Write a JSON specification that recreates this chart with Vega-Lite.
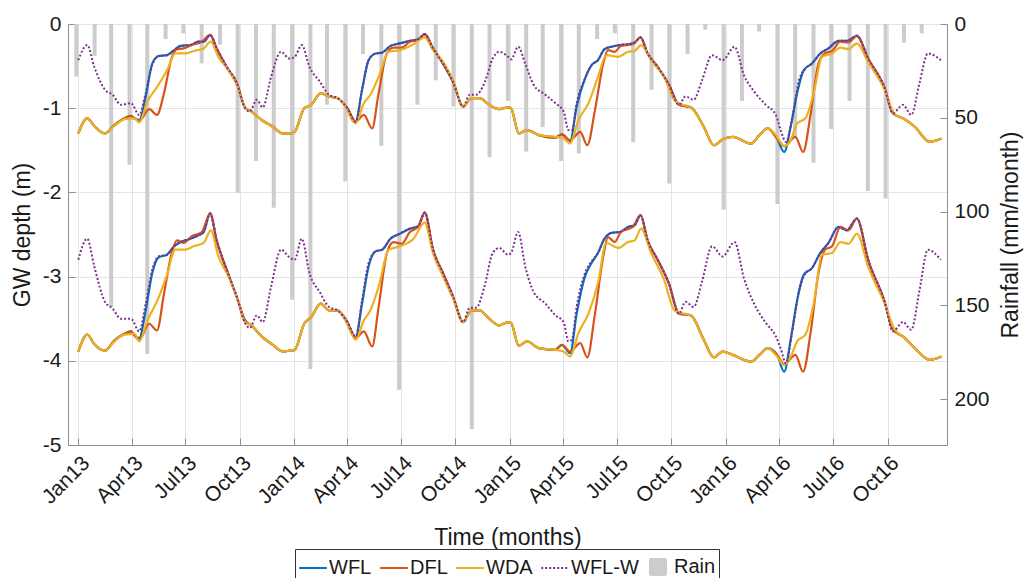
{
  "$schema": "https://vega.github.io/schema/vega-lite/v6.json",
  "width": 879,
  "height": 421,
  "autosize": {"type": "none"},
  "padding": {"left": 68, "top": 24, "right": 77, "bottom": 133},
  "background": "white",
  "config": {
    "font": "Liberation Sans",
    "view": {"stroke": "#8f8f8f", "strokeWidth": 1},
    "axis": {
      "labelFontSize": 21,
      "labelColor": "#1a1a1a",
      "titleFontSize": 23,
      "titleFontWeight": "normal",
      "titleColor": "#1a1a1a",
      "domainColor": "#8f8f8f",
      "tickColor": "#8f8f8f",
      "gridColor": "#e4e4e4",
      "gridWidth": 1
    }
  },
  "datasets": {
    "rain": [
      {"t": "2013-01-01", "r": 28}, {"t": "2013-02-01", "r": 17}, {"t": "2013-03-01", "r": 151}, {"t": "2013-04-01", "r": 75},
      {"t": "2013-05-01", "r": 176}, {"t": "2013-06-01", "r": 8}, {"t": "2013-07-01", "r": 5}, {"t": "2013-08-01", "r": 21},
      {"t": "2013-09-01", "r": 11}, {"t": "2013-10-01", "r": 90}, {"t": "2013-11-01", "r": 73}, {"t": "2013-12-01", "r": 98},
      {"t": "2014-01-01", "r": 147}, {"t": "2014-02-01", "r": 184}, {"t": "2014-03-01", "r": 43}, {"t": "2014-04-01", "r": 84},
      {"t": "2014-05-01", "r": 16}, {"t": "2014-06-01", "r": 65}, {"t": "2014-07-01", "r": 195}, {"t": "2014-08-01", "r": 43},
      {"t": "2014-09-01", "r": 30}, {"t": "2014-10-01", "r": 44}, {"t": "2014-11-01", "r": 216}, {"t": "2014-12-01", "r": 71},
      {"t": "2015-01-01", "r": 41}, {"t": "2015-02-01", "r": 68}, {"t": "2015-03-01", "r": 55}, {"t": "2015-04-01", "r": 73},
      {"t": "2015-05-01", "r": 69}, {"t": "2015-06-01", "r": 8}, {"t": "2015-07-01", "r": 5}, {"t": "2015-08-01", "r": 63},
      {"t": "2015-09-01", "r": 35}, {"t": "2015-10-01", "r": 85}, {"t": "2015-11-01", "r": 16}, {"t": "2015-12-01", "r": 3},
      {"t": "2016-01-01", "r": 99}, {"t": "2016-02-01", "r": 41}, {"t": "2016-03-01", "r": 4}, {"t": "2016-04-01", "r": 96},
      {"t": "2016-05-01", "r": 60}, {"t": "2016-06-01", "r": 74}, {"t": "2016-07-01", "r": 56}, {"t": "2016-08-01", "r": 41},
      {"t": "2016-09-01", "r": 89}, {"t": "2016-10-01", "r": 93}, {"t": "2016-11-01", "r": 10}, {"t": "2016-12-01", "r": 5}
    ],
    "gw": [
      {"s":"WDA","t":"2013-01-01","u":-1.30,"l":-3.89},{"s":"WDA","t":"2013-01-16","u":-1.12,"l":-3.69},{"s":"WDA","t":"2013-01-29","u":-1.22,"l":-3.81},
      {"s":"WDA","t":"2013-02-15","u":-1.30,"l":-3.88},{"s":"WDA","t":"2013-03-03","u":-1.21,"l":-3.77},{"s":"WDA","t":"2013-03-20","u":-1.13,"l":-3.69},
      {"s":"WDA","t":"2013-04-06","u":-1.12,"l":-3.68},{"s":"WDA","t":"2013-04-14","u":-1.17,"l":-3.77},{"s":"WDA","t":"2013-04-28","u":-0.92,"l":-3.52},
      {"s":"WDA","t":"2013-05-15","u":-0.74,"l":-3.28},{"s":"WDA","t":"2013-05-31","u":-0.55,"l":-2.98},{"s":"WDA","t":"2013-06-14","u":-0.35,"l":-2.68},
      {"s":"WDA","t":"2013-07-01","u":-0.35,"l":-2.68},{"s":"WDA","t":"2013-07-15","u":-0.32,"l":-2.64},{"s":"WDA","t":"2013-08-01","u":-0.29,"l":-2.60},
      {"s":"WDA","t":"2013-08-13","u":-0.21,"l":-2.45},{"s":"WDA","t":"2013-08-26","u":-0.39,"l":-2.76},{"s":"WDA","t":"2013-09-12","u":-0.55,"l":-3.00},
      {"s":"WDA","t":"2013-09-26","u":-0.72,"l":-3.24},{"s":"WDA","t":"2013-10-10","u":-0.98,"l":-3.54},{"s":"WDA","t":"2013-10-21","u":-1.04,"l":-3.58},
      {"s":"WDA","t":"2013-11-07","u":-1.14,"l":-3.71},{"s":"WDA","t":"2013-11-26","u":-1.22,"l":-3.81},{"s":"WDA","t":"2013-12-13","u":-1.30,"l":-3.89},
      {"s":"WDA","t":"2013-12-24","u":-1.30,"l":-3.88},{"s":"WDA","t":"2014-01-02","u":-1.28,"l":-3.87},{"s":"WDA","t":"2014-01-18","u":-1.00,"l":-3.56},
      {"s":"WDA","t":"2014-01-30","u":-0.96,"l":-3.48},{"s":"WDA","t":"2014-02-15","u":-0.82,"l":-3.32},{"s":"WDA","t":"2014-03-01","u":-0.86,"l":-3.40},
      {"s":"WDA","t":"2014-03-15","u":-0.88,"l":-3.40},{"s":"WDA","t":"2014-03-29","u":-0.98,"l":-3.52},{"s":"WDA","t":"2014-04-09","u":-1.14,"l":-3.69},
      {"s":"WDA","t":"2014-04-15","u":-1.18,"l":-3.75},{"s":"WDA","t":"2014-04-29","u":-0.94,"l":-3.52},{"s":"WDA","t":"2014-05-10","u":-0.84,"l":-3.40},
      {"s":"WDA","t":"2014-05-24","u":-0.63,"l":-3.12},{"s":"WDA","t":"2014-06-10","u":-0.33,"l":-2.68},{"s":"WDA","t":"2014-06-29","u":-0.31,"l":-2.64},
      {"s":"WDA","t":"2014-07-22","u":-0.24,"l":-2.55},{"s":"WDA","t":"2014-08-10","u":-0.16,"l":-2.36},{"s":"WDA","t":"2014-08-24","u":-0.31,"l":-2.72},
      {"s":"WDA","t":"2014-09-10","u":-0.45,"l":-3.00},{"s":"WDA","t":"2014-09-27","u":-0.67,"l":-3.26},{"s":"WDA","t":"2014-10-14","u":-0.98,"l":-3.54},
      {"s":"WDA","t":"2014-10-28","u":-0.88,"l":-3.40},{"s":"WDA","t":"2014-11-11","u":-0.88,"l":-3.40},{"s":"WDA","t":"2014-11-27","u":-0.96,"l":-3.50},
      {"s":"WDA","t":"2014-12-14","u":-1.01,"l":-3.58},{"s":"WDA","t":"2014-12-29","u":-0.99,"l":-3.54},{"s":"WDA","t":"2015-01-03","u":-1.00,"l":-3.55},
      {"s":"WDA","t":"2015-01-16","u":-1.30,"l":-3.82},{"s":"WDA","t":"2015-01-30","u":-1.26,"l":-3.77},{"s":"WDA","t":"2015-02-19","u":-1.32,"l":-3.85},
      {"s":"WDA","t":"2015-03-19","u":-1.34,"l":-3.87},{"s":"WDA","t":"2015-04-02","u":-1.36,"l":-3.89},{"s":"WDA","t":"2015-04-13","u":-1.42,"l":-3.95},
      {"s":"WDA","t":"2015-04-27","u":-1.14,"l":-3.67},{"s":"WDA","t":"2015-05-14","u":-0.94,"l":-3.44},{"s":"WDA","t":"2015-05-30","u":-0.63,"l":-3.08},
      {"s":"WDA","t":"2015-06-13","u":-0.37,"l":-2.60},{"s":"WDA","t":"2015-07-03","u":-0.39,"l":-2.66},{"s":"WDA","t":"2015-07-20","u":-0.33,"l":-2.59},
      {"s":"WDA","t":"2015-07-31","u":-0.32,"l":-2.57},{"s":"WDA","t":"2015-08-11","u":-0.25,"l":-2.43},{"s":"WDA","t":"2015-08-28","u":-0.43,"l":-2.72},
      {"s":"WDA","t":"2015-09-19","u":-0.63,"l":-3.04},{"s":"WDA","t":"2015-10-06","u":-0.90,"l":-3.40},{"s":"WDA","t":"2015-10-17","u":-0.95,"l":-3.43},
      {"s":"WDA","t":"2015-11-03","u":-0.99,"l":-3.46},{"s":"WDA","t":"2015-11-25","u":-1.22,"l":-3.75},{"s":"WDA","t":"2015-12-12","u":-1.44,"l":-3.96},
      {"s":"WDA","t":"2015-12-27","u":-1.37,"l":-3.89},{"s":"WDA","t":"2016-01-13","u":-1.34,"l":-3.93},{"s":"WDA","t":"2016-02-13","u":-1.42,"l":-4.01},
      {"s":"WDA","t":"2016-02-27","u":-1.32,"l":-3.93},{"s":"WDA","t":"2016-03-12","u":-1.24,"l":-3.85},{"s":"WDA","t":"2016-03-26","u":-1.32,"l":-3.93},
      {"s":"WDA","t":"2016-04-09","u":-1.45,"l":-4.05},{"s":"WDA","t":"2016-04-20","u":-1.38,"l":-3.95},{"s":"WDA","t":"2016-05-01","u":-1.18,"l":-3.77},
      {"s":"WDA","t":"2016-05-15","u":-1.12,"l":-3.69},{"s":"WDA","t":"2016-05-29","u":-0.82,"l":-3.32},{"s":"WDA","t":"2016-06-12","u":-0.39,"l":-2.74},
      {"s":"WDA","t":"2016-06-29","u":-0.35,"l":-2.72},{"s":"WDA","t":"2016-07-13","u":-0.28,"l":-2.59},{"s":"WDA","t":"2016-07-27","u":-0.30,"l":-2.61},
      {"s":"WDA","t":"2016-08-10","u":-0.23,"l":-2.49},{"s":"WDA","t":"2016-08-29","u":-0.45,"l":-2.88},{"s":"WDA","t":"2016-09-26","u":-0.78,"l":-3.32},
      {"s":"WDA","t":"2016-10-13","u":-1.07,"l":-3.63},{"s":"WDA","t":"2016-10-27","u":-1.12,"l":-3.71},{"s":"WDA","t":"2016-11-16","u":-1.22,"l":-3.85},
      {"s":"WDA","t":"2016-12-11","u":-1.40,"l":-3.99},{"s":"WDA","t":"2016-12-31","u":-1.36,"l":-3.95},

      {"s":"WFL","t":"2013-01-01","u":-1.30,"l":-3.89},{"s":"WFL","t":"2013-01-16","u":-1.12,"l":-3.69},{"s":"WFL","t":"2013-01-29","u":-1.22,"l":-3.81},
      {"s":"WFL","t":"2013-02-15","u":-1.30,"l":-3.88},{"s":"WFL","t":"2013-03-03","u":-1.20,"l":-3.76},{"s":"WFL","t":"2013-03-20","u":-1.12,"l":-3.68},
      {"s":"WFL","t":"2013-03-31","u":-1.09,"l":-3.65},{"s":"WFL","t":"2013-04-06","u":-1.12,"l":-3.70},{"s":"WFL","t":"2013-04-14","u":-1.14,"l":-3.73},
      {"s":"WFL","t":"2013-04-25","u":-0.86,"l":-3.40},{"s":"WFL","t":"2013-05-06","u":-0.47,"l":-2.96},{"s":"WFL","t":"2013-05-17","u":-0.38,"l":-2.77},
      {"s":"WFL","t":"2013-05-31","u":-0.37,"l":-2.74},{"s":"WFL","t":"2013-06-12","u":-0.31,"l":-2.64},{"s":"WFL","t":"2013-06-23","u":-0.26,"l":-2.59},
      {"s":"WFL","t":"2013-07-10","u":-0.25,"l":-2.55},{"s":"WFL","t":"2013-07-23","u":-0.21,"l":-2.51},{"s":"WFL","t":"2013-08-01","u":-0.21,"l":-2.47},
      {"s":"WFL","t":"2013-08-12","u":-0.13,"l":-2.25},{"s":"WFL","t":"2013-08-23","u":-0.29,"l":-2.57},{"s":"WFL","t":"2013-09-09","u":-0.51,"l":-2.92},
      {"s":"WFL","t":"2013-09-26","u":-0.70,"l":-3.24},{"s":"WFL","t":"2013-10-10","u":-0.99,"l":-3.52},{"s":"WFL","t":"2013-10-21","u":-1.04,"l":-3.58},
      {"s":"WFL","t":"2013-11-07","u":-1.14,"l":-3.71},{"s":"WFL","t":"2013-11-26","u":-1.22,"l":-3.81},{"s":"WFL","t":"2013-12-13","u":-1.30,"l":-3.89},
      {"s":"WFL","t":"2013-12-24","u":-1.30,"l":-3.88},{"s":"WFL","t":"2014-01-02","u":-1.28,"l":-3.87},{"s":"WFL","t":"2014-01-18","u":-1.00,"l":-3.56},
      {"s":"WFL","t":"2014-01-30","u":-0.96,"l":-3.48},{"s":"WFL","t":"2014-02-15","u":-0.82,"l":-3.32},{"s":"WFL","t":"2014-03-01","u":-0.86,"l":-3.40},
      {"s":"WFL","t":"2014-03-15","u":-0.88,"l":-3.40},{"s":"WFL","t":"2014-04-01","u":-1.00,"l":-3.54},{"s":"WFL","t":"2014-04-15","u":-1.16,"l":-3.73},
      {"s":"WFL","t":"2014-04-26","u":-0.78,"l":-3.32},{"s":"WFL","t":"2014-05-07","u":-0.43,"l":-2.88},{"s":"WFL","t":"2014-05-19","u":-0.35,"l":-2.70},
      {"s":"WFL","t":"2014-05-30","u":-0.34,"l":-2.68},{"s":"WFL","t":"2014-06-13","u":-0.26,"l":-2.55},{"s":"WFL","t":"2014-06-29","u":-0.23,"l":-2.49},
      {"s":"WFL","t":"2014-07-16","u":-0.20,"l":-2.43},{"s":"WFL","t":"2014-07-30","u":-0.18,"l":-2.40},{"s":"WFL","t":"2014-08-10","u":-0.12,"l":-2.24},
      {"s":"WFL","t":"2014-08-24","u":-0.29,"l":-2.68},{"s":"WFL","t":"2014-09-10","u":-0.47,"l":-2.96},{"s":"WFL","t":"2014-09-27","u":-0.69,"l":-3.24},
      {"s":"WFL","t":"2014-10-14","u":-0.98,"l":-3.54},{"s":"WFL","t":"2014-10-28","u":-0.88,"l":-3.40},{"s":"WFL","t":"2014-11-11","u":-0.88,"l":-3.40},
      {"s":"WFL","t":"2014-11-27","u":-0.96,"l":-3.50},{"s":"WFL","t":"2014-12-14","u":-1.01,"l":-3.58},{"s":"WFL","t":"2014-12-29","u":-0.99,"l":-3.54},
      {"s":"WFL","t":"2015-01-03","u":-1.00,"l":-3.55},{"s":"WFL","t":"2015-01-16","u":-1.30,"l":-3.82},{"s":"WFL","t":"2015-01-30","u":-1.26,"l":-3.77},
      {"s":"WFL","t":"2015-02-19","u":-1.32,"l":-3.85},{"s":"WFL","t":"2015-03-19","u":-1.35,"l":-3.87},{"s":"WFL","t":"2015-03-30","u":-1.31,"l":-3.81},
      {"s":"WFL","t":"2015-04-13","u":-1.39,"l":-3.91},{"s":"WFL","t":"2015-04-24","u":-0.98,"l":-3.44},{"s":"WFL","t":"2015-05-08","u":-0.65,"l":-3.00},
      {"s":"WFL","t":"2015-05-19","u":-0.49,"l":-2.84},{"s":"WFL","t":"2015-05-30","u":-0.43,"l":-2.72},{"s":"WFL","t":"2015-06-10","u":-0.30,"l":-2.55},
      {"s":"WFL","t":"2015-06-22","u":-0.27,"l":-2.48},{"s":"WFL","t":"2015-07-06","u":-0.25,"l":-2.47},{"s":"WFL","t":"2015-07-20","u":-0.24,"l":-2.41},
      {"s":"WFL","t":"2015-07-31","u":-0.22,"l":-2.39},{"s":"WFL","t":"2015-08-10","u":-0.16,"l":-2.27},{"s":"WFL","t":"2015-08-22","u":-0.35,"l":-2.57},
      {"s":"WFL","t":"2015-09-08","u":-0.51,"l":-2.80},{"s":"WFL","t":"2015-09-27","u":-0.72,"l":-3.08},{"s":"WFL","t":"2015-10-14","u":-0.96,"l":-3.44},
      {"s":"WFL","t":"2015-11-03","u":-0.99,"l":-3.46},{"s":"WFL","t":"2015-11-25","u":-1.22,"l":-3.75},{"s":"WFL","t":"2015-12-12","u":-1.44,"l":-3.96},
      {"s":"WFL","t":"2015-12-27","u":-1.37,"l":-3.89},{"s":"WFL","t":"2016-01-13","u":-1.34,"l":-3.93},{"s":"WFL","t":"2016-02-13","u":-1.42,"l":-4.01},
      {"s":"WFL","t":"2016-02-27","u":-1.32,"l":-3.93},{"s":"WFL","t":"2016-03-12","u":-1.24,"l":-3.85},{"s":"WFL","t":"2016-03-28","u":-1.36,"l":-3.93},
      {"s":"WFL","t":"2016-04-09","u":-1.52,"l":-4.13},{"s":"WFL","t":"2016-04-20","u":-1.22,"l":-3.75},{"s":"WFL","t":"2016-05-01","u":-0.82,"l":-3.28},
      {"s":"WFL","t":"2016-05-12","u":-0.55,"l":-2.98},{"s":"WFL","t":"2016-05-26","u":-0.47,"l":-2.90},{"s":"WFL","t":"2016-06-09","u":-0.35,"l":-2.72},
      {"s":"WFL","t":"2016-06-23","u":-0.29,"l":-2.60},{"s":"WFL","t":"2016-07-10","u":-0.20,"l":-2.41},{"s":"WFL","t":"2016-07-24","u":-0.20,"l":-2.45},
      {"s":"WFL","t":"2016-08-10","u":-0.14,"l":-2.31},{"s":"WFL","t":"2016-08-29","u":-0.41,"l":-2.80},{"s":"WFL","t":"2016-09-26","u":-0.76,"l":-3.30},
      {"s":"WFL","t":"2016-10-10","u":-1.06,"l":-3.63},{"s":"WFL","t":"2016-10-27","u":-1.12,"l":-3.71},{"s":"WFL","t":"2016-11-16","u":-1.22,"l":-3.85},
      {"s":"WFL","t":"2016-12-11","u":-1.40,"l":-3.99},{"s":"WFL","t":"2016-12-31","u":-1.36,"l":-3.95},

      {"s":"DFL","t":"2013-01-01","u":-1.30,"l":-3.89},{"s":"DFL","t":"2013-01-16","u":-1.12,"l":-3.69},{"s":"DFL","t":"2013-01-29","u":-1.22,"l":-3.81},
      {"s":"DFL","t":"2013-02-15","u":-1.30,"l":-3.88},{"s":"DFL","t":"2013-03-03","u":-1.20,"l":-3.76},{"s":"DFL","t":"2013-03-20","u":-1.12,"l":-3.68},
      {"s":"DFL","t":"2013-03-31","u":-1.09,"l":-3.65},{"s":"DFL","t":"2013-04-06","u":-1.12,"l":-3.70},{"s":"DFL","t":"2013-04-14","u":-1.15,"l":-3.75},
      {"s":"DFL","t":"2013-05-01","u":-1.01,"l":-3.56},{"s":"DFL","t":"2013-05-14","u":-1.08,"l":-3.64},{"s":"DFL","t":"2013-05-26","u":-0.82,"l":-3.20},
      {"s":"DFL","t":"2013-06-08","u":-0.40,"l":-2.72},{"s":"DFL","t":"2013-06-17","u":-0.30,"l":-2.57},{"s":"DFL","t":"2013-06-28","u":-0.29,"l":-2.60},
      {"s":"DFL","t":"2013-07-12","u":-0.25,"l":-2.52},{"s":"DFL","t":"2013-07-29","u":-0.21,"l":-2.47},{"s":"DFL","t":"2013-08-12","u":-0.13,"l":-2.25},
      {"s":"DFL","t":"2013-08-23","u":-0.29,"l":-2.57},{"s":"DFL","t":"2013-09-09","u":-0.51,"l":-2.92},{"s":"DFL","t":"2013-09-26","u":-0.70,"l":-3.24},
      {"s":"DFL","t":"2013-10-10","u":-0.99,"l":-3.52},{"s":"DFL","t":"2013-10-21","u":-1.04,"l":-3.58},{"s":"DFL","t":"2013-11-07","u":-1.14,"l":-3.71},
      {"s":"DFL","t":"2013-11-26","u":-1.22,"l":-3.81},{"s":"DFL","t":"2013-12-13","u":-1.30,"l":-3.89},{"s":"DFL","t":"2013-12-24","u":-1.30,"l":-3.88},
      {"s":"DFL","t":"2014-01-02","u":-1.28,"l":-3.87},{"s":"DFL","t":"2014-01-18","u":-1.00,"l":-3.56},{"s":"DFL","t":"2014-01-30","u":-0.96,"l":-3.48},
      {"s":"DFL","t":"2014-02-15","u":-0.82,"l":-3.32},{"s":"DFL","t":"2014-03-01","u":-0.86,"l":-3.40},{"s":"DFL","t":"2014-03-15","u":-0.88,"l":-3.40},
      {"s":"DFL","t":"2014-04-01","u":-1.00,"l":-3.54},{"s":"DFL","t":"2014-04-15","u":-1.16,"l":-3.73},{"s":"DFL","t":"2014-04-29","u":-1.08,"l":-3.65},
      {"s":"DFL","t":"2014-05-13","u":-1.24,"l":-3.83},{"s":"DFL","t":"2014-05-24","u":-0.82,"l":-3.36},{"s":"DFL","t":"2014-06-07","u":-0.35,"l":-2.72},
      {"s":"DFL","t":"2014-06-18","u":-0.28,"l":-2.59},{"s":"DFL","t":"2014-07-02","u":-0.28,"l":-2.61},{"s":"DFL","t":"2014-07-16","u":-0.21,"l":-2.47},
      {"s":"DFL","t":"2014-07-30","u":-0.19,"l":-2.41},{"s":"DFL","t":"2014-08-10","u":-0.12,"l":-2.24},{"s":"DFL","t":"2014-08-24","u":-0.29,"l":-2.68},
      {"s":"DFL","t":"2014-09-10","u":-0.47,"l":-2.96},{"s":"DFL","t":"2014-09-27","u":-0.69,"l":-3.24},{"s":"DFL","t":"2014-10-14","u":-0.98,"l":-3.54},
      {"s":"DFL","t":"2014-10-28","u":-0.88,"l":-3.40},{"s":"DFL","t":"2014-11-11","u":-0.88,"l":-3.40},{"s":"DFL","t":"2014-11-27","u":-0.96,"l":-3.50},
      {"s":"DFL","t":"2014-12-14","u":-1.01,"l":-3.58},{"s":"DFL","t":"2014-12-29","u":-0.99,"l":-3.54},{"s":"DFL","t":"2015-01-03","u":-1.00,"l":-3.55},
      {"s":"DFL","t":"2015-01-16","u":-1.30,"l":-3.82},{"s":"DFL","t":"2015-01-30","u":-1.26,"l":-3.77},{"s":"DFL","t":"2015-02-19","u":-1.32,"l":-3.85},
      {"s":"DFL","t":"2015-03-19","u":-1.35,"l":-3.87},{"s":"DFL","t":"2015-03-30","u":-1.31,"l":-3.81},{"s":"DFL","t":"2015-04-13","u":-1.38,"l":-3.89},
      {"s":"DFL","t":"2015-04-30","u":-1.28,"l":-3.79},{"s":"DFL","t":"2015-05-12","u":-1.44,"l":-3.96},{"s":"DFL","t":"2015-05-25","u":-1.02,"l":-3.44},
      {"s":"DFL","t":"2015-06-08","u":-0.47,"l":-2.76},{"s":"DFL","t":"2015-06-16","u":-0.31,"l":-2.53},{"s":"DFL","t":"2015-06-27","u":-0.33,"l":-2.59},
      {"s":"DFL","t":"2015-07-08","u":-0.26,"l":-2.47},{"s":"DFL","t":"2015-07-28","u":-0.24,"l":-2.41},{"s":"DFL","t":"2015-08-10","u":-0.16,"l":-2.27},
      {"s":"DFL","t":"2015-08-22","u":-0.35,"l":-2.57},{"s":"DFL","t":"2015-09-08","u":-0.51,"l":-2.80},{"s":"DFL","t":"2015-09-27","u":-0.72,"l":-3.08},
      {"s":"DFL","t":"2015-10-14","u":-0.96,"l":-3.44},{"s":"DFL","t":"2015-11-03","u":-0.99,"l":-3.46},{"s":"DFL","t":"2015-11-25","u":-1.22,"l":-3.75},
      {"s":"DFL","t":"2015-12-12","u":-1.44,"l":-3.96},{"s":"DFL","t":"2015-12-27","u":-1.37,"l":-3.89},{"s":"DFL","t":"2016-01-13","u":-1.34,"l":-3.93},
      {"s":"DFL","t":"2016-02-13","u":-1.42,"l":-4.01},{"s":"DFL","t":"2016-02-27","u":-1.32,"l":-3.93},{"s":"DFL","t":"2016-03-12","u":-1.24,"l":-3.85},
      {"s":"DFL","t":"2016-03-28","u":-1.36,"l":-3.93},{"s":"DFL","t":"2016-04-09","u":-1.45,"l":-4.04},{"s":"DFL","t":"2016-04-28","u":-1.34,"l":-3.93},
      {"s":"DFL","t":"2016-05-11","u":-1.52,"l":-4.13},{"s":"DFL","t":"2016-05-24","u":-1.06,"l":-3.65},{"s":"DFL","t":"2016-06-06","u":-0.47,"l":-2.96},
      {"s":"DFL","t":"2016-06-17","u":-0.35,"l":-2.68},{"s":"DFL","t":"2016-06-29","u":-0.32,"l":-2.64},{"s":"DFL","t":"2016-07-13","u":-0.21,"l":-2.41},
      {"s":"DFL","t":"2016-07-27","u":-0.22,"l":-2.45},{"s":"DFL","t":"2016-08-10","u":-0.14,"l":-2.31},{"s":"DFL","t":"2016-08-29","u":-0.41,"l":-2.80},
      {"s":"DFL","t":"2016-09-26","u":-0.76,"l":-3.30},{"s":"DFL","t":"2016-10-10","u":-1.06,"l":-3.63},{"s":"DFL","t":"2016-10-27","u":-1.12,"l":-3.71},
      {"s":"DFL","t":"2016-11-16","u":-1.22,"l":-3.85},{"s":"DFL","t":"2016-12-11","u":-1.40,"l":-3.99},{"s":"DFL","t":"2016-12-31","u":-1.36,"l":-3.95},

      {"s":"WFL-W","t":"2013-01-01","u":-0.43,"l":-2.80},{"s":"WFL-W","t":"2013-01-16","u":-0.25,"l":-2.55},{"s":"WFL-W","t":"2013-01-28","u":-0.51,"l":-2.88},
      {"s":"WFL-W","t":"2013-02-15","u":-0.78,"l":-3.30},{"s":"WFL-W","t":"2013-02-28","u":-0.84,"l":-3.38},{"s":"WFL-W","t":"2013-03-14","u":-0.96,"l":-3.50},
      {"s":"WFL-W","t":"2013-03-31","u":-0.94,"l":-3.50},{"s":"WFL-W","t":"2013-04-14","u":-1.08,"l":-3.65},{"s":"WFL-W","t":"2013-04-25","u":-0.82,"l":-3.32},
      {"s":"WFL-W","t":"2013-05-06","u":-0.49,"l":-2.92},{"s":"WFL-W","t":"2013-05-17","u":-0.38,"l":-2.76},{"s":"WFL-W","t":"2013-05-31","u":-0.37,"l":-2.74},
      {"s":"WFL-W","t":"2013-06-12","u":-0.31,"l":-2.64},{"s":"WFL-W","t":"2013-06-23","u":-0.26,"l":-2.59},{"s":"WFL-W","t":"2013-07-10","u":-0.25,"l":-2.55},
      {"s":"WFL-W","t":"2013-07-23","u":-0.21,"l":-2.51},{"s":"WFL-W","t":"2013-08-01","u":-0.21,"l":-2.47},{"s":"WFL-W","t":"2013-08-12","u":-0.13,"l":-2.25},
      {"s":"WFL-W","t":"2013-08-23","u":-0.29,"l":-2.57},{"s":"WFL-W","t":"2013-09-09","u":-0.51,"l":-2.92},{"s":"WFL-W","t":"2013-09-26","u":-0.70,"l":-3.24},
      {"s":"WFL-W","t":"2013-10-10","u":-1.00,"l":-3.55},{"s":"WFL-W","t":"2013-10-18","u":-1.04,"l":-3.61},{"s":"WFL-W","t":"2013-10-30","u":-0.90,"l":-3.46},
      {"s":"WFL-W","t":"2013-11-09","u":-0.99,"l":-3.54},{"s":"WFL-W","t":"2013-11-23","u":-0.63,"l":-3.12},{"s":"WFL-W","t":"2013-12-10","u":-0.33,"l":-2.68},
      {"s":"WFL-W","t":"2013-12-24","u":-0.41,"l":-2.77},{"s":"WFL-W","t":"2014-01-02","u":-0.39,"l":-2.80},{"s":"WFL-W","t":"2014-01-14","u":-0.25,"l":-2.55},
      {"s":"WFL-W","t":"2014-01-27","u":-0.51,"l":-2.96},{"s":"WFL-W","t":"2014-02-13","u":-0.68,"l":-3.18},{"s":"WFL-W","t":"2014-03-01","u":-0.84,"l":-3.36},
      {"s":"WFL-W","t":"2014-03-15","u":-0.88,"l":-3.40},{"s":"WFL-W","t":"2014-04-01","u":-1.00,"l":-3.54},{"s":"WFL-W","t":"2014-04-15","u":-1.16,"l":-3.71},
      {"s":"WFL-W","t":"2014-04-26","u":-0.78,"l":-3.28},{"s":"WFL-W","t":"2014-05-07","u":-0.43,"l":-2.84},{"s":"WFL-W","t":"2014-05-19","u":-0.35,"l":-2.70},
      {"s":"WFL-W","t":"2014-05-30","u":-0.34,"l":-2.68},{"s":"WFL-W","t":"2014-06-13","u":-0.26,"l":-2.55},{"s":"WFL-W","t":"2014-06-29","u":-0.23,"l":-2.49},
      {"s":"WFL-W","t":"2014-07-16","u":-0.20,"l":-2.43},{"s":"WFL-W","t":"2014-07-30","u":-0.18,"l":-2.40},{"s":"WFL-W","t":"2014-08-10","u":-0.12,"l":-2.24},
      {"s":"WFL-W","t":"2014-08-24","u":-0.29,"l":-2.68},{"s":"WFL-W","t":"2014-09-10","u":-0.47,"l":-2.96},{"s":"WFL-W","t":"2014-09-27","u":-0.69,"l":-3.24},
      {"s":"WFL-W","t":"2014-10-14","u":-0.98,"l":-3.54},{"s":"WFL-W","t":"2014-10-25","u":-0.84,"l":-3.37},{"s":"WFL-W","t":"2014-11-05","u":-0.84,"l":-3.37},
      {"s":"WFL-W","t":"2014-11-19","u":-0.70,"l":-3.12},{"s":"WFL-W","t":"2014-12-03","u":-0.41,"l":-2.72},{"s":"WFL-W","t":"2014-12-14","u":-0.33,"l":-2.66},
      {"s":"WFL-W","t":"2014-12-29","u":-0.39,"l":-2.74},{"s":"WFL-W","t":"2015-01-03","u":-0.42,"l":-2.72},{"s":"WFL-W","t":"2015-01-15","u":-0.27,"l":-2.47},
      {"s":"WFL-W","t":"2015-01-27","u":-0.47,"l":-2.88},{"s":"WFL-W","t":"2015-02-10","u":-0.72,"l":-3.18},{"s":"WFL-W","t":"2015-03-02","u":-0.84,"l":-3.32},
      {"s":"WFL-W","t":"2015-03-19","u":-0.94,"l":-3.46},{"s":"WFL-W","t":"2015-04-02","u":-1.04,"l":-3.54},{"s":"WFL-W","t":"2015-04-10","u":-1.26,"l":-3.77},
      {"s":"WFL-W","t":"2015-04-16","u":-1.26,"l":-3.75},{"s":"WFL-W","t":"2015-04-24","u":-0.94,"l":-3.36},{"s":"WFL-W","t":"2015-05-08","u":-0.65,"l":-2.96},
      {"s":"WFL-W","t":"2015-05-19","u":-0.49,"l":-2.82},{"s":"WFL-W","t":"2015-05-30","u":-0.43,"l":-2.72},{"s":"WFL-W","t":"2015-06-10","u":-0.30,"l":-2.55},
      {"s":"WFL-W","t":"2015-06-22","u":-0.27,"l":-2.48},{"s":"WFL-W","t":"2015-07-06","u":-0.25,"l":-2.47},{"s":"WFL-W","t":"2015-07-20","u":-0.24,"l":-2.41},
      {"s":"WFL-W","t":"2015-07-31","u":-0.22,"l":-2.39},{"s":"WFL-W","t":"2015-08-10","u":-0.16,"l":-2.27},{"s":"WFL-W","t":"2015-08-22","u":-0.35,"l":-2.57},
      {"s":"WFL-W","t":"2015-09-08","u":-0.51,"l":-2.80},{"s":"WFL-W","t":"2015-09-27","u":-0.72,"l":-3.08},{"s":"WFL-W","t":"2015-10-14","u":-0.96,"l":-3.44},
      {"s":"WFL-W","t":"2015-10-25","u":-0.86,"l":-3.30},{"s":"WFL-W","t":"2015-11-08","u":-0.90,"l":-3.36},{"s":"WFL-W","t":"2015-11-22","u":-0.67,"l":-3.06},
      {"s":"WFL-W","t":"2015-12-09","u":-0.37,"l":-2.64},{"s":"WFL-W","t":"2015-12-27","u":-0.43,"l":-2.76},{"s":"WFL-W","t":"2016-01-16","u":-0.27,"l":-2.59},
      {"s":"WFL-W","t":"2016-02-01","u":-0.61,"l":-3.02},{"s":"WFL-W","t":"2016-02-18","u":-0.80,"l":-3.32},{"s":"WFL-W","t":"2016-03-09","u":-0.96,"l":-3.55},
      {"s":"WFL-W","t":"2016-03-26","u":-1.08,"l":-3.71},{"s":"WFL-W","t":"2016-04-03","u":-1.26,"l":-3.85},{"s":"WFL-W","t":"2016-04-12","u":-1.40,"l":-4.03},
      {"s":"WFL-W","t":"2016-04-23","u":-1.10,"l":-3.63},{"s":"WFL-W","t":"2016-05-04","u":-0.67,"l":-3.18},{"s":"WFL-W","t":"2016-05-15","u":-0.53,"l":-2.96},
      {"s":"WFL-W","t":"2016-05-26","u":-0.47,"l":-2.90},{"s":"WFL-W","t":"2016-06-09","u":-0.35,"l":-2.72},{"s":"WFL-W","t":"2016-06-23","u":-0.29,"l":-2.60},
      {"s":"WFL-W","t":"2016-07-10","u":-0.20,"l":-2.41},{"s":"WFL-W","t":"2016-07-24","u":-0.20,"l":-2.45},{"s":"WFL-W","t":"2016-08-10","u":-0.14,"l":-2.31},
      {"s":"WFL-W","t":"2016-08-29","u":-0.41,"l":-2.80},{"s":"WFL-W","t":"2016-09-26","u":-0.76,"l":-3.30},{"s":"WFL-W","t":"2016-10-10","u":-1.06,"l":-3.65},
      {"s":"WFL-W","t":"2016-10-27","u":-0.96,"l":-3.54},{"s":"WFL-W","t":"2016-11-10","u":-1.08,"l":-3.63},{"s":"WFL-W","t":"2016-11-24","u":-0.70,"l":-3.16},
      {"s":"WFL-W","t":"2016-12-08","u":-0.35,"l":-2.68},{"s":"WFL-W","t":"2016-12-30","u":-0.43,"l":-2.80}
    ]
  },
  "encoding": {
    "x": {
      "field": "t",
      "type": "temporal",
      "scale": {
        "type": "utc",
        "domain": [
          {"year": 2012, "month": 12, "date": 23, "utc": true},
          {"year": 2017, "month": 1, "date": 1, "utc": true}
        ]
      },
      "axis": {
        "title": "Time (months)",
        "values": [
          {"year": 2013, "month": 1, "date": 1, "utc": true}, {"year": 2013, "month": 4, "date": 1, "utc": true},
          {"year": 2013, "month": 7, "date": 1, "utc": true}, {"year": 2013, "month": 10, "date": 1, "utc": true},
          {"year": 2014, "month": 1, "date": 1, "utc": true}, {"year": 2014, "month": 4, "date": 1, "utc": true},
          {"year": 2014, "month": 7, "date": 1, "utc": true}, {"year": 2014, "month": 10, "date": 1, "utc": true},
          {"year": 2015, "month": 1, "date": 1, "utc": true}, {"year": 2015, "month": 4, "date": 1, "utc": true},
          {"year": 2015, "month": 7, "date": 1, "utc": true}, {"year": 2015, "month": 10, "date": 1, "utc": true},
          {"year": 2016, "month": 1, "date": 1, "utc": true}, {"year": 2016, "month": 4, "date": 1, "utc": true},
          {"year": 2016, "month": 7, "date": 1, "utc": true}, {"year": 2016, "month": 10, "date": 1, "utc": true}
        ],
        "format": "%b%y",
        "labelAngle": -45,
        "labelAlign": "right",
        "labelBaseline": "top",
        "tickSize": -7,
        "labelPadding": 14,
        "titleY": 99,
        "titleBaseline": "alphabetic",
        "grid": true,
        "labelFlush": false,
        "labelOverlap": false
      }
    }
  },
  "layer": [
    {
      "data": {"name": "rain"},
      "mark": {"type": "bar", "width": 4, "xOffset": -2},
      "encoding": {
        "y": {
          "field": "r",
          "type": "quantitative",
          "scale": {"domain": [0, 224.5], "reverse": true, "nice": false, "zero": true},
          "axis": {
            "orient": "right",
            "title": "Rainfall (mm/month)",
            "values": [0, 50, 100, 150, 200],
            "grid": false,
            "tickSize": -7,
            "labelPadding": 14,
            "titleAngle": -90,
            "titleX": 70,
            "titleBaseline": "alphabetic"
          }
        },
        "color": {
          "datum": "Rain",
          "scale": {
            "domain": ["WFL", "DFL", "WDA", "WFL-W", "Rain"],
            "range": ["#0072BD", "#D95319", "#EDB120", "#7E2F8E", "#cccccc"]
          }
        }
      }
    },
    {
      "layer": [
        {
          "data": {"name": "gw"},
          "transform": [{"filter": "datum.s === 'WFL'"}, {"fold": ["u", "l"], "as": ["site", "depth"]}],
          "mark": {"type": "line", "interpolate": "monotone", "strokeWidth": 2.2},
          "encoding": {
            "y": {
              "field": "depth",
              "type": "quantitative",
              "scale": {"domain": [-5, 0], "nice": false},
              "axis": {
                "title": "GW depth (m)",
                "values": [-5, -4, -3, -2, -1, 0],
                "labelExpr": "toString(datum.value)",
                "tickSize": -7,
                "labelPadding": 14,
                "titleX": -39,
                "titleBaseline": "alphabetic",
                "grid": true
              }
            },
            "color": {
              "field": "s",
              "type": "nominal",
              "legend": {
                "title": null,
                "orient": "none",
                "legendX": 227,
                "legendY": 525,
                "direction": "horizontal",
                "labelFontSize": 20,
                "labelColor": "#1a1a1a",
                "strokeColor": "#333333",
                "fillColor": "#ffffff",
                "padding": 3,
                "columnPadding": 4,
                "labelOffset": 1,
                "symbolSize": 760,
                "symbolStrokeWidth": 2,
                "encode": {
                  "symbols": {
                    "update": {
                      "shape": {"signal": "datum.value === 'Rain' ? 'square' : 'stroke'"},
                      "size": {"signal": "datum.value === 'Rain' ? 256 : 760"},
                      "strokeDash": {"signal": "datum.value === 'WFL-W' ? [2, 2] : [1, 0]"},
                      "fill": {"signal": "datum.value === 'Rain' ? '#cccccc' : 'transparent'"},
                      "stroke": {"signal": "datum.value === 'Rain' ? 'transparent' : scale('color', datum.value)"},
                      "strokeWidth": {"value": 2}
                    }
                  }
                }
              }
            },
            "detail": {"field": "site"}
          }
        },
        {
          "data": {"name": "gw"},
          "transform": [{"filter": "datum.s === 'DFL'"}, {"fold": ["u", "l"], "as": ["site", "depth"]}],
          "mark": {"type": "line", "interpolate": "monotone", "strokeWidth": 2.2},
          "encoding": {
            "y": {"field": "depth", "type": "quantitative"},
            "color": {"field": "s", "type": "nominal"},
            "detail": {"field": "site"}
          }
        },
        {
          "data": {"name": "gw"},
          "transform": [{"filter": "datum.s === 'WDA'"}, {"fold": ["u", "l"], "as": ["site", "depth"]}],
          "mark": {"type": "line", "interpolate": "monotone", "strokeWidth": 2.2},
          "encoding": {
            "y": {"field": "depth", "type": "quantitative"},
            "color": {"field": "s", "type": "nominal"},
            "detail": {"field": "site"}
          }
        },
        {
          "data": {"name": "gw"},
          "transform": [{"filter": "datum.s === 'WFL-W'"}, {"fold": ["u", "l"], "as": ["site", "depth"]}],
          "mark": {"type": "line", "interpolate": "monotone", "strokeWidth": 2, "strokeDash": [2, 2]},
          "encoding": {
            "y": {"field": "depth", "type": "quantitative"},
            "color": {"field": "s", "type": "nominal"},
            "detail": {"field": "site"}
          }
        }
      ]
    }
  ],
  "resolve": {"scale": {"y": "independent"}}
}
